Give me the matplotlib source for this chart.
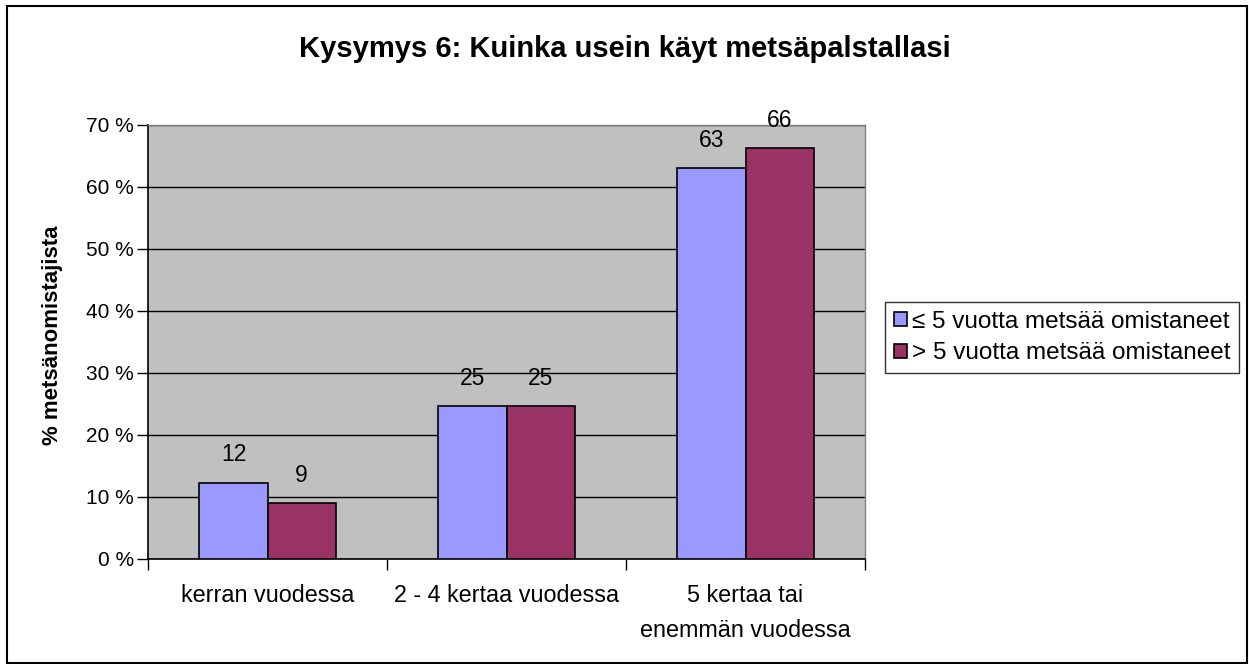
import numpy as np
import matplotlib
matplotlib.use("Agg")
import matplotlib.pyplot as plt
from matplotlib.patches import Rectangle

plt.rcParams['font.family'] = ['Liberation Sans', 'DejaVu Sans']

categories = ["kerran vuodessa", "2 - 4 kertaa vuodessa", "5 kertaa tai\nenemmän vuodessa"]
new_owners = [12.3, 24.6, 63.1]
old_owners = [9.0, 24.6, 66.3]
series_names = ["≤ 5 vuotta metsää omistaneet", "> 5 vuotta metsää omistaneet"]
yticks = [0, 10, 20, 30, 40, 50, 60, 70]

W, H = 1249, 664
fig = plt.figure(figsize=(W / 100, H / 100), dpi=100)
fig.patch.set_facecolor('white')

# outer chart border
fig.patches.append(Rectangle((7 / W, 1 / H), 1240 / W, 657 / H, transform=fig.transFigure,
                             fill=False, edgecolor='black', linewidth=1.5))

ax = fig.add_axes([148 / W, 1 - 559 / H, (865 - 148) / W, (559 - 125) / H])
ax.set_facecolor('#C0C0C0')

x = np.arange(len(categories))
w = 0.285
b1 = ax.bar(x - w / 2, new_owners, w, color='#9999FF', edgecolor='black', linewidth=1.2,
            label=series_names[0], zorder=3)
b2 = ax.bar(x + w / 2, old_owners, w, color='#993366', edgecolor='black', linewidth=1.2,
            label=series_names[1], zorder=3)

for bars, vals in [(b1, new_owners), (b2, old_owners)]:
    for bar, v in zip(bars, vals):
        ax.annotate("%d" % round(v), (bar.get_x() + bar.get_width() / 2, v),
                    xytext=(0, 20), textcoords='offset points', ha='center', va='center',
                    fontsize=16.5)

ax.set_xlim(-0.5, len(categories) - 0.5)
ax.set_ylim(0, 70)
ax.set_yticks(yticks)
ax.set_yticklabels(["%d %%" % t for t in yticks], fontsize=15)
ax.yaxis.grid(True, color='black', linewidth=1)
ax.set_axisbelow(True)

# category ticks sit between groups, labels at group centres
ax.set_xticks(np.arange(len(categories) + 1) - 0.5)
ax.set_xticklabels([])
ax.set_xticks(x, minor=True)
ax.set_xticklabels(categories, minor=True, fontsize=16.8)
for lbl in ax.get_xticklabels(minor=True):
    lbl.set_linespacing(1.65)
ax.tick_params(axis='x', which='minor', length=0, pad=18)
ax.tick_params(axis='both', which='major', length=8, width=1, direction='out', color='black')
ax.tick_params(axis='y', pad=2)

for s in ['top', 'right']:
    ax.spines[s].set_color('#808080')
    ax.spines[s].set_linewidth(1)
ax.spines['left'].set_linewidth(1.2)
ax.spines['bottom'].set_linewidth(1.2)

ylab = ax.set_ylabel("% metsänomistajista", fontsize=16, fontweight='bold')
ylab.set_va('center')
ax.yaxis.set_label_coords((52 - 148) / 717, (559 - 335) / 434)

fig.text(0.5, 1 - 49 / H, "Kysymys 6: Kuinka usein käyt metsäpalstallasi",
         ha='center', va='center', fontsize=21, fontweight='bold')

leg = fig.legend(handles=[b1, b2], loc='upper left',
                 bbox_to_anchor=(885 / W, 1 - 302 / H), fontsize=17.5, frameon=True,
                 fancybox=False, edgecolor='black', handlelength=0.55, handleheight=0.5,
                 handletextpad=0.2, borderpad=0.35, labelspacing=0.4, borderaxespad=0)
leg.get_frame().set_linewidth(1)

fig.savefig("out.png", dpi=100)
